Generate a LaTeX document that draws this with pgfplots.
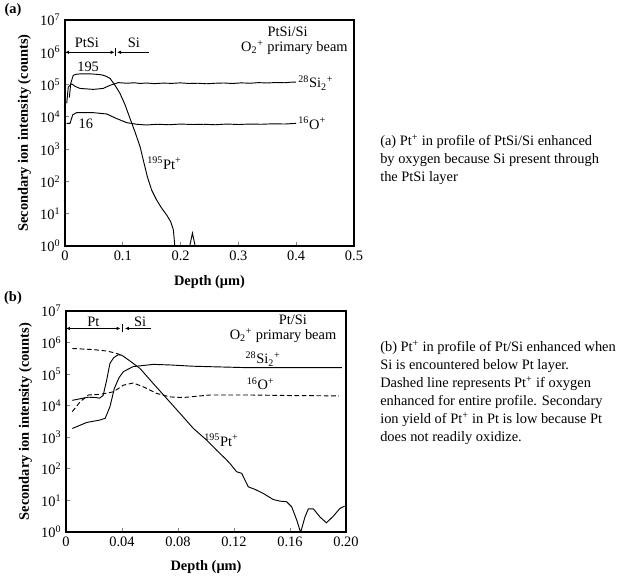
\documentclass[border=0pt]{standalone}
\usepackage{fontspec}
\setmainfont{Liberation Serif}
\usepackage{pgfplots}
\pgfplotsset{compat=1.18}
\usetikzlibrary{arrows.meta}

\newcommand{\tenp}[1]{10\textsuperscript{#1}}

\begin{document}
\begin{tikzpicture}[font=\fontsize{10.8}{13}\selectfont]
\path[use as bounding box] (0,0) rectangle (474.75pt,-432pt);

\node[font=\bfseries\fontsize{10.8}{13}\selectfont] at (9.75pt,-7.5pt) {(a)};
\node[font=\bfseries\fontsize{10.8}{13}\selectfont] at (9.75pt,-223.5pt) {(b)};

% ---------------- (a) PtSi/Si ----------------
\begin{axis}[
  scale only axis,
  at={(48.75pt,-184.5pt)}, anchor=south west,
  width=216.75pt, height=169.5pt,
  ymode=log, ymin=1, ymax=1e7,
  xmin=0, xmax=0.5,
  axis line style={line width=1.1pt},
  tick pos=left, tick align=inside,
  major tick length=3pt,
  major tick style={line width=0.6pt},
  ytick={1,10,100,1000,10000,100000,1000000,10000000},
  yticklabels={\tenp0,\tenp1,\tenp2,\tenp3,\tenp4,\tenp5,\tenp6,\tenp7},
  yminorticks=false,
  xtick={0,0.1,0.2,0.3,0.4,0.5},
  xticklabels={0,0.1,0.2,0.3,0.4,0.5},
  ylabel={\textbf{Secondary ion intensity (counts)}},
  xlabel={\textbf{Depth (μm)}},
  xlabel style={yshift=-4.5pt},
]
% 195Pt+
\addplot[black, line width=0.7pt] coordinates {
 (0.0075,3.98e4) (0.0100,1.12e5) (0.0144,1.95e5) (0.0200,2.09e5) (0.0260,2.14e5)
 (0.0450,2.14e5) (0.0600,2.04e5) (0.0660,1.95e5) (0.0720,1.78e5) (0.0780,1.55e5)
 (0.0865,9.5e4) (0.0950,5.4e4) (0.1040,2.34e4) (0.1125,8.9e3) (0.1210,3.47e3)
 (0.1300,1.17e3) (0.1355,457) (0.1424,141) (0.1500,53.7) (0.1587,26.3)
 (0.1673,14.8) (0.1760,9.1) (0.1830,5.6) (0.1875,3.16) (0.1900,1.0)
 (0.1905,0.7) (0.2140,0.7) (0.2205,2.5) (0.2270,0.7)
};
% 28Si2+
\addplot[black, line width=0.7pt] coordinates {
 (0.0030,2.63e4) (0.0057,8.5e4) (0.0116,1.05e5) (0.0180,8.7e4) (0.0260,7.6e4)
 (0.0490,7.1e4) (0.0660,7.6e4) (0.0780,9.5e4) (0.0920,1.15e5) (0.1070,1.10e5)
 (0.120,1.14e5) (0.130,1.08e5) (0.140,1.12e5) (0.155,1.07e5) (0.170,1.11e5)
 (0.185,1.09e5) (0.200,1.13e5) (0.215,1.08e5) (0.230,1.10e5) (0.245,1.06e5)
 (0.260,1.10e5) (0.275,1.12e5) (0.290,1.08e5) (0.305,1.13e5) (0.320,1.10e5)
 (0.335,1.15e5) (0.350,1.12e5) (0.365,1.16e5) (0.380,1.14e5) (0.390,1.18e5)
 (0.400,1.20e5)
};
% 16O+
\addplot[black, line width=0.7pt] coordinates {
 (0.0030,6.3e3) (0.0087,6.3e3) (0.0133,1.15e4) (0.0200,1.35e4) (0.0490,1.35e4)
 (0.0720,1.23e4) (0.0890,8.9e3) (0.1070,6.6e3) (0.1240,5.9e3) (0.140,5.6e3)
 (0.160,5.9e3) (0.180,5.7e3) (0.200,6.0e3) (0.220,5.8e3) (0.240,5.9e3)
 (0.260,5.7e3) (0.280,6.0e3) (0.300,5.8e3) (0.320,6.0e3) (0.340,5.9e3)
 (0.360,6.1e3) (0.380,6.0e3) (0.400,6.3e3)
};
% layer markers
\draw[line width=0.6pt, {Latex[length=3pt,width=2.6pt]}-{Latex[length=3pt,width=2.6pt]}]
  (axis cs:0,1e6) -- (axis cs:0.086,1e6);
\draw[line width=0.6pt, {Latex[length=3pt,width=2.6pt]}-]
  (axis cs:0.090,1e6) -- (axis cs:0.146,1e6);
\draw[line width=0.6pt] (axis cs:0.088,7.5e5) -- (axis cs:0.088,1.35e6);
\node at (axis cs:0.038,1.95e6) {PtSi};
\node at (axis cs:0.119,1.95e6) {Si};
\node at (axis cs:0.040,3.6e5) {195};
\node at (axis cs:0.036,6.3e3) {16};
\node[anchor=west, inner sep=0pt] at (axis cs:0.142,363) {\textsuperscript{195}Pt\textsuperscript{+}};
\node[anchor=west, inner sep=1pt] at (axis cs:0.401,1.12e5) {\textsuperscript{28}Si\textsubscript{2}\textsuperscript{+}};
\node[anchor=west, inner sep=1pt] at (axis cs:0.401,6.3e3) {\textsuperscript{16}O\textsuperscript{+}};
\node[inner sep=0pt] at (axis cs:0.385,4.3e6) {PtSi/Si};
\node[inner sep=0pt] at (axis cs:0.397,1.4e6) {O\textsubscript{2}\textsuperscript{+} primary beam};
\end{axis}

% ---------------- (b) Pt/Si ----------------
\begin{axis}[
  scale only axis,
  at={(49.5pt,-399pt)}, anchor=south west,
  width=210pt, height=165.75pt,
  ymode=log, ymin=1, ymax=1e7,
  xmin=0, xmax=0.2,
  axis line style={line width=1.1pt},
  tick pos=left, tick align=inside,
  major tick length=3pt,
  major tick style={line width=0.6pt},
  ytick={1,10,100,1000,10000,100000,1000000,10000000},
  yticklabels={\tenp0,\tenp1,\tenp2,\tenp3,\tenp4,\tenp5,\tenp6,\tenp7},
  yminorticks=false,
  xtick={0,0.04,0.08,0.12,0.16,0.2},
  xticklabels={0,0.04,0.08,0.12,0.16,0.20},
  ylabel={\textbf{Secondary ion intensity (counts)}},
  xlabel={\textbf{Depth (μm)}},
  xlabel style={yshift=-4pt},
]
% 195Pt+ (solid)
\addplot[black, line width=0.7pt] coordinates {
 (0.0045,1.48e4) (0.0100,1.66e4) (0.0160,1.86e4) (0.0210,1.82e4) (0.0240,1.74e4)
 (0.0265,2.1e4) (0.0290,6.3e4) (0.0314,2.19e5) (0.0340,3.3e5) (0.0370,4.07e5)
 (0.0398,4.0e5) (0.0450,2.75e5) (0.0529,1.51e5) (0.0624,5.0e4) (0.0719,1.7e4)
 (0.0814,5.75e3) (0.0910,1.9e3) (0.1005,813) (0.1076,389) (0.1148,191)
 (0.1171,148) (0.1219,81) (0.1255,72) (0.1302,27) (0.1350,22.4)
 (0.1410,16.6) (0.1480,10.7) (0.1529,9.5) (0.1576,9.1) (0.1612,6.3)
 (0.1648,2.4) (0.1676,0.97) (0.1707,3.0) (0.1731,5.4) (0.1767,5.4)
 (0.1814,3.0) (0.1860,1.95) (0.1910,3.2) (0.1957,5.6) (0.1990,6.6)
};
% Pt+ if oxygen enhanced (dashed)
\addplot[black, line width=0.7pt, dash pattern=on 3.5pt off 2pt] coordinates {
 (0.0045,6.5e5) (0.0195,6.0e5) (0.0290,5.4e5) (0.0350,4.7e5) (0.0398,4.0e5)
};
% 28Si2+
\addplot[black, line width=0.7pt] coordinates {
 (0.0045,1.9e3) (0.0148,2.95e3) (0.0240,3.5e3) (0.0280,4.0e3) (0.0314,9.3e3)
 (0.0345,3.5e4) (0.0380,7.9e4) (0.0410,1.2e5) (0.0480,1.74e5) (0.0624,2.04e5)
 (0.0750,1.95e5) (0.0910,1.78e5) (0.1310,1.6e5) (0.1600,1.6e5) (0.1970,1.6e5)
};
% 16O+ (dashed)
\addplot[black, line width=0.7pt, dash pattern=on 3.5pt off 2pt] coordinates {
 (0.0045,6.5e3) (0.0100,1.32e4) (0.0160,2.19e4) (0.0243,2.29e4) (0.0338,2.75e4)
 (0.0410,4.47e4) (0.0480,5.25e4) (0.0552,3.98e4) (0.0648,2.45e4) (0.0743,1.9e4)
 (0.0838,1.82e4) (0.1030,2.19e4) (0.1310,2.19e4) (0.1600,2.1e4) (0.1950,2.05e4)
};
\draw[line width=0.6pt, {Latex[length=3pt,width=2.6pt]}-{Latex[length=3pt,width=2.6pt]}]
  (axis cs:0,2.8e6) -- (axis cs:0.039,2.8e6);
\draw[line width=0.6pt, {Latex[length=3pt,width=2.6pt]}-]
  (axis cs:0.042,2.8e6) -- (axis cs:0.061,2.8e6);
\draw[line width=0.6pt] (axis cs:0.0405,2.1e6) -- (axis cs:0.0405,3.8e6);
\node at (axis cs:0.0196,4.7e6) {Pt};
\node at (axis cs:0.053,4.7e6) {Si};
\node[inner sep=0pt] at (axis cs:0.162,5.3e6) {Pt/Si};
\node[inner sep=0pt] at (axis cs:0.155,1.65e6) {O\textsubscript{2}\textsuperscript{+} primary beam};
\node at (axis cs:0.1407,3.0e5) {\textsuperscript{28}Si\textsubscript{2}\textsuperscript{+}};
\node at (axis cs:0.139,5.0e4) {\textsuperscript{16}O\textsuperscript{+}};
\node at (axis cs:0.111,8.1e2) {\textsuperscript{195}Pt\textsuperscript{+}};
\end{axis}

% side notes
\node[anchor=west, align=left, inner sep=0pt, font=\fontsize{10.8}{13.5}\selectfont]
  at (285pt,-120pt) {(a) Pt\textsuperscript{+} in profile of PtSi/Si enhanced\\
  by oxygen because Si present through\\ the PtSi layer};
\node[anchor=west, align=left, inner sep=0pt, font=\fontsize{10.8}{13.5}\selectfont]
  at (285pt,-294.75pt) {(b) Pt\textsuperscript{+} in profile of Pt/Si enhanced when\\
  Si is encountered below Pt layer.\\
  Dashed line represents Pt\textsuperscript{+} if oxygen\\
  enhanced for entire profile. Secondary\\
  ion yield of Pt\textsuperscript{+} in Pt is low because Pt\\
  does not readily oxidize.};
\end{tikzpicture}
\end{document}
